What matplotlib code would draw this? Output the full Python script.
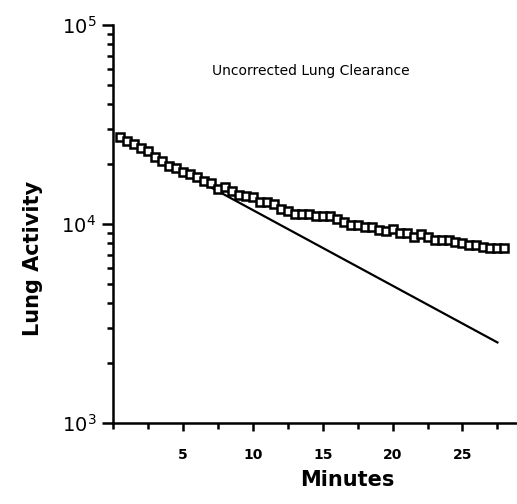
# Uncorrected lung clearance curve with mono-exponential fit
import matplotlib
matplotlib.use("Agg")
import matplotlib.pyplot as plt
from matplotlib.ticker import FixedLocator, LogLocator, NullFormatter

# measured lung activity, sampled every 0.5 min
minutes = [0.5, 1.0, 1.5, 2.0, 2.5, 3.0, 3.5, 4.0, 4.5, 5.0, 5.5, 6.0, 6.5, 7.0,
           7.5, 8.0, 8.5, 9.0, 9.5, 10.0, 10.5, 11.0, 11.5, 12.0, 12.5, 13.0,
           13.5, 14.0, 14.5, 15.0, 15.5, 16.0, 16.5, 17.0, 17.5, 18.0, 18.5,
           19.0, 19.5, 20.0, 20.5, 21.0, 21.5, 22.0, 22.5, 23.0, 23.5, 24.0,
           24.5, 25.0, 25.5, 26.0, 26.5, 27.0, 27.5, 28.0]
activity = [27280, 26040, 25150, 24010, 23190, 21630, 20650, 19490, 19040,
            18170, 17760, 17150, 16370, 16000, 14920, 15270, 14580, 13920,
            13760, 13600, 12830, 12830, 12540, 11830, 11690, 11170, 11170,
            11170, 10910, 10910, 10910, 10540, 10290, 9830, 9830, 9710,
            9710, 9380, 9170, 9490, 9060, 9060, 8650, 8860, 8650, 8350,
            8350, 8350, 8160, 8070, 7880, 7880, 7700, 7610, 7610, 7610]

# straight-line (exponential) fit of the early phase
fit_minutes = [0.5, 27.5]
fit_activity = [27000, 2540]

x_ticks = [5, 10, 15, 20, 25]
x_minor = [0, 2.5, 7.5, 12.5, 17.5, 22.5, 27.5]
y_ticks = [1e3, 1e4, 1e5]
y_labels = [r"$\mathregular{10^3}$", r"$\mathregular{10^4}$", r"$\mathregular{10^5}$"]

fig = plt.figure(figsize=(5.17, 5.04), dpi=100)
ax = fig.add_axes([113 / 517, 81 / 504, 404 / 517, 398 / 504])

ax.plot(fit_minutes, fit_activity, color="black", lw=1.6, zorder=2)
ax.plot(minutes, activity, ls="none", marker="s", ms=6, mfc="white",
        mec="black", mew=1.8, zorder=3)

ax.set_yscale("log")
ax.set_ylim(1e3, 1e5)
ax.set_xlim(0, 28.9)

for s in ["top", "right"]:
    ax.spines[s].set_visible(False)
for s in ["left", "bottom"]:
    ax.spines[s].set_linewidth(1.8)

ax.xaxis.set_major_locator(FixedLocator(x_ticks))
ax.xaxis.set_minor_locator(FixedLocator(x_minor))
ax.set_xticklabels([str(t) for t in x_ticks], fontsize=10, fontweight="bold")
ax.tick_params(axis="x", which="major", length=6, width=1.8, pad=12)
ax.tick_params(axis="x", which="minor", length=4, width=1.8)

ax.yaxis.set_major_locator(FixedLocator(y_ticks))
ax.yaxis.set_minor_locator(LogLocator(base=10, subs=range(2, 10)))
ax.yaxis.set_minor_formatter(NullFormatter())
ax.set_yticklabels(y_labels, fontsize=14)
ax.tick_params(axis="y", which="major", length=8, width=1.8, pad=4)
ax.tick_params(axis="y", which="minor", length=4, width=1.8)

ax.text(0.49, 0.885, "Uncorrected Lung Clearance", transform=ax.transAxes,
        ha="center", va="center", fontsize=10)

fig.text(347 / 517, 1 - 480 / 504, "Minutes", ha="center", va="center",
         fontsize=15, fontweight="bold")
fig.text(33 / 517, 1 - 258 / 504, "Lung Activity", ha="center", va="center",
         rotation=90, fontsize=15, fontweight="bold")

fig.savefig("out.png", dpi=100)
